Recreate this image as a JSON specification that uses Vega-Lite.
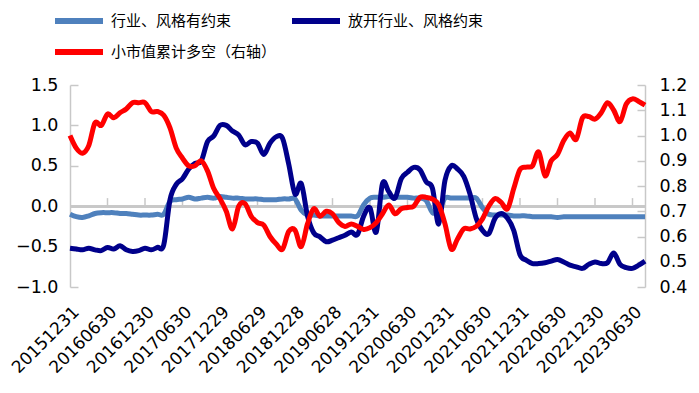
{
  "$schema": "https://vega.github.io/schema/vega-lite/v6.json",
  "width": 575,
  "height": 202,
  "autosize": {"type": "none"},
  "padding": {"left": 70, "top": 85, "right": 54, "bottom": 106},
  "background": "white",
  "config": {
    "view": {"stroke": null},
    "axis": {"labelFont": "DejaVu Sans", "labelFontSize": 17.5, "labelColor": "#000000", "domainColor": "#c8c8c8", "tickColor": "#c8c8c8", "domainWidth": 1.5, "tickWidth": 1.5, "grid": false, "title": null}
  },
  "data": {"values": [
    {"d":"20151231","a":-0.10,"b":-0.52,"c":1.00},
    {"d":"20160129","a":-0.13,"b":-0.53,"c":0.95},
    {"d":"20160229","a":-0.14,"b":-0.54,"c":0.93},
    {"d":"20160331","a":-0.12,"b":-0.52,"c":0.96},
    {"d":"20160429","a":-0.09,"b":-0.54,"c":1.05},
    {"d":"20160531","a":-0.08,"b":-0.55,"c":1.04},
    {"d":"20160630","a":-0.08,"b":-0.51,"c":1.085},
    {"d":"20160729","a":-0.08,"b":-0.53,"c":1.07},
    {"d":"20160831","a":-0.09,"b":-0.49,"c":1.09},
    {"d":"20160930","a":-0.09,"b":-0.54,"c":1.105},
    {"d":"20161031","a":-0.10,"b":-0.56,"c":1.13},
    {"d":"20161130","a":-0.11,"b":-0.55,"c":1.13},
    {"d":"20161230","a":-0.11,"b":-0.52,"c":1.13},
    {"d":"20170126","a":-0.11,"b":-0.54,"c":1.095},
    {"d":"20170228","a":-0.10,"b":-0.51,"c":1.095},
    {"d":"20170331","a":-0.10,"b":-0.48,"c":1.08},
    {"d":"20170428","a":0.06,"b":0.08,"c":1.03},
    {"d":"20170531","a":0.08,"b":0.27,"c":0.95},
    {"d":"20170630","a":0.09,"b":0.34,"c":0.91},
    {"d":"20170731","a":0.11,"b":0.46,"c":0.88},
    {"d":"20170831","a":0.09,"b":0.53,"c":0.88},
    {"d":"20170929","a":0.10,"b":0.56,"c":0.90},
    {"d":"20171031","a":0.11,"b":0.80,"c":0.86},
    {"d":"20171130","a":0.10,"b":0.87,"c":0.79},
    {"d":"20171229","a":0.12,"b":1.00,"c":0.75},
    {"d":"20180131","a":0.11,"b":1.00,"c":0.70},
    {"d":"20180228","a":0.10,"b":0.93,"c":0.63},
    {"d":"20180330","a":0.10,"b":0.88,"c":0.72},
    {"d":"20180427","a":0.09,"b":0.76,"c":0.73},
    {"d":"20180531","a":0.09,"b":0.80,"c":0.68},
    {"d":"20180629","a":0.09,"b":0.78,"c":0.655},
    {"d":"20180731","a":0.08,"b":0.64,"c":0.645},
    {"d":"20180831","a":0.08,"b":0.78,"c":0.60},
    {"d":"20180928","a":0.08,"b":0.86,"c":0.57},
    {"d":"20181031","a":0.09,"b":0.84,"c":0.55},
    {"d":"20181130","a":0.09,"b":0.52,"c":0.62},
    {"d":"20181228","a":0.09,"b":0.15,"c":0.625},
    {"d":"20190131","a":-0.05,"b":0.28,"c":0.56},
    {"d":"20190228","a":-0.11,"b":-0.12,"c":0.65},
    {"d":"20190329","a":-0.11,"b":-0.33,"c":0.71},
    {"d":"20190430","a":-0.12,"b":-0.38,"c":0.68},
    {"d":"20190531","a":-0.12,"b":-0.44,"c":0.70},
    {"d":"20190628","a":-0.12,"b":-0.42,"c":0.69},
    {"d":"20190731","a":-0.12,"b":-0.39,"c":0.655},
    {"d":"20190830","a":-0.12,"b":-0.36,"c":0.64},
    {"d":"20190930","a":-0.12,"b":-0.32,"c":0.65},
    {"d":"20191031","a":-0.12,"b":-0.35,"c":0.64},
    {"d":"20191129","a":0.02,"b":-0.12,"c":0.628},
    {"d":"20191231","a":0.10,"b":-0.02,"c":0.635},
    {"d":"20200123","a":0.11,"b":-0.32,"c":0.655},
    {"d":"20200228","a":0.11,"b":0.28,"c":0.69},
    {"d":"20200331","a":0.12,"b":0.18,"c":0.725},
    {"d":"20200430","a":0.11,"b":0.10,"c":0.69},
    {"d":"20200529","a":0.11,"b":0.34,"c":0.71},
    {"d":"20200630","a":0.11,"b":0.42,"c":0.715},
    {"d":"20200731","a":0.10,"b":0.48,"c":0.72},
    {"d":"20200831","a":0.10,"b":0.45,"c":0.755},
    {"d":"20200930","a":0.07,"b":0.30,"c":0.755},
    {"d":"20201030","a":-0.08,"b":0.22,"c":0.748},
    {"d":"20201130","a":-0.05,"b":-0.22,"c":0.725},
    {"d":"20201231","a":0.10,"b":0.32,"c":0.65},
    {"d":"20210129","a":0.10,"b":0.50,"c":0.55},
    {"d":"20210226","a":0.10,"b":0.46,"c":0.59},
    {"d":"20210331","a":0.10,"b":0.37,"c":0.63},
    {"d":"20210430","a":0.10,"b":0.15,"c":0.63},
    {"d":"20210531","a":0.10,"b":-0.15,"c":0.64},
    {"d":"20210630","a":-0.02,"b":-0.30,"c":0.67},
    {"d":"20210730","a":-0.10,"b":-0.34,"c":0.72},
    {"d":"20210831","a":-0.11,"b":-0.15,"c":0.75},
    {"d":"20210930","a":-0.11,"b":-0.09,"c":0.735},
    {"d":"20211029","a":-0.11,"b":-0.15,"c":0.71},
    {"d":"20211130","a":-0.12,"b":-0.30,"c":0.79},
    {"d":"20211231","a":-0.12,"b":-0.60,"c":0.865},
    {"d":"20220128","a":-0.12,"b":-0.67,"c":0.875},
    {"d":"20220228","a":-0.13,"b":-0.71,"c":0.88},
    {"d":"20220331","a":-0.13,"b":-0.71,"c":0.935},
    {"d":"20220429","a":-0.13,"b":-0.70,"c":0.84},
    {"d":"20220531","a":-0.13,"b":-0.68,"c":0.90},
    {"d":"20220630","a":-0.14,"b":-0.66,"c":0.925},
    {"d":"20220729","a":-0.13,"b":-0.69,"c":0.98},
    {"d":"20220831","a":-0.13,"b":-0.73,"c":1.01},
    {"d":"20220930","a":-0.13,"b":-0.75,"c":0.985},
    {"d":"20221031","a":-0.13,"b":-0.77,"c":1.07},
    {"d":"20221130","a":-0.13,"b":-0.72,"c":1.075},
    {"d":"20221230","a":-0.13,"b":-0.69,"c":1.065},
    {"d":"20230131","a":-0.13,"b":-0.71,"c":1.09},
    {"d":"20230228","a":-0.13,"b":-0.70,"c":1.13},
    {"d":"20230331","a":-0.13,"b":-0.58,"c":1.10},
    {"d":"20230428","a":-0.13,"b":-0.72,"c":1.055},
    {"d":"20230531","a":-0.13,"b":-0.76,"c":1.125},
    {"d":"20230630","a":-0.13,"b":-0.77,"c":1.145},
    {"d":"20230731","a":-0.13,"b":-0.73,"c":1.135},
    {"d":"20230831","a":-0.13,"b":-0.68,"c":1.12}
  ]},
  "encoding": {
    "x": {
      "field": "d", "type": "ordinal",
      "scale": {"type": "point", "padding": 0},
      "axis": {
        "values": ["20151231","20160630","20161230","20170630","20171229","20180629","20181228","20190628","20191231","20200630","20201231","20210630","20211231","20220630","20221230","20230630"],
        "labelAngle": -45, "labelAlign": "right", "labelBaseline": "middle",
        "domain": false, "ticks": false, "labelPadding": 22, "labelOffset": 6, "labelOverlap": false, "labelFontSize": 17
      }
    }
  },
  "layer": [
    {
      "layer": [
        {
          "mark": {"type": "rule", "color": "#c8c8c8", "strokeWidth": 2},
          "encoding": {"x": null, "y": {"datum": 0, "type": "quantitative"}}
        },
        {
          "transform": [{"filter": {"field": "d", "oneOf": ["20160630","20161230","20170630","20171229","20180629","20181228","20190628","20191231","20200630","20201231","20210630","20211231","20220630","20221230","20230630"]}}],
          "mark": {"type": "rule", "color": "#c8c8c8", "strokeWidth": 1.5},
          "encoding": {"y": {"datum": 0, "type": "quantitative"}, "y2": {"datum": 0.1}}
        },
        {
          "transform": [{"fold": ["a", "b"], "as": ["k", "v"]}],
          "mark": {"type": "line", "strokeWidth": 5, "interpolate": "cardinal"},
          "encoding": {
            "y": {"field": "v", "type": "quantitative", "scale": {"domain": [-1, 1.5], "nice": false, "zero": false},
              "axis": {"orient": "left", "values": [-1, -0.5, 0, 0.5, 1, 1.5], "format": ".1f", "tickSize": -8, "labelPadding": 20}},
            "color": {"field": "k", "type": "nominal",
              "scale": {"domain": ["a", "b", "c"], "range": ["#4f81bd", "#00008b", "#ff0000"]},
              "legend": {"orient": "none", "legendX": -6, "legendY": -79, "columns": 2, "direction": "horizontal", "title": null,
                "symbolType": "M-2,0H2", "symbolSize": 576, "symbolStrokeWidth": 6, "labelFont": "Noto Sans CJK SC", "labelFontSize": 15, "labelColor": "#000000",
                "labelOffset": 17, "columnPadding": 3, "rowPadding": 4, "labelLimit": 300, "padding": 0,
                "labelExpr": "datum.label == 'a' ? '行业、风格有约束' : datum.label == 'b' ? '放开行业、风格约束' : '小市值累计多空（右轴）'"}}
          }
        }
      ]
    },
    {
      "transform": [{"fold": ["c"], "as": ["k", "v"]}],
      "mark": {"type": "line", "strokeWidth": 5, "interpolate": "cardinal"},
      "encoding": {
        "y": {"field": "v", "type": "quantitative", "scale": {"domain": [0.4, 1.2], "nice": false, "zero": false},
          "axis": {"orient": "right", "values": [0.4, 0.5, 0.6, 0.7, 0.8, 0.9, 1.0, 1.1, 1.2], "format": ".1f", "tickSize": -8, "labelPadding": 22}},
        "color": {"field": "k", "type": "nominal"}
      }
    }
  ],
  "resolve": {"scale": {"y": "independent"}}
}
